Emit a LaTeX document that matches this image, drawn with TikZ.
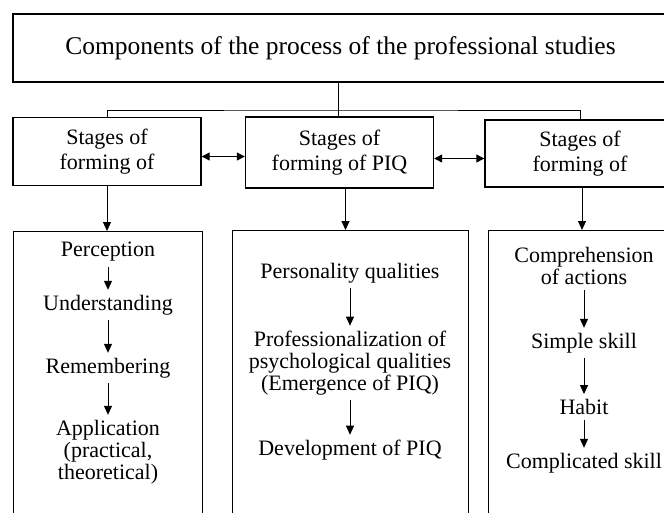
\documentclass[tikz,border=0pt]{standalone}
\usepackage{fontspec}
\setmainfont{Liberation Serif}
\usetikzlibrary{arrows.meta}

\begin{document}
\begin{tikzpicture}[x=1pt,y=-1pt,
      every node/.style={inner sep=0pt},
      titlebox/.style={draw,line width=1.6pt,minimum width=655pt,minimum height=68pt,
        font=\fontsize{25.5}{28}\selectfont},
      stagebox/.style={draw,line width=1.4pt,minimum width=188pt,minimum height=68pt,
        align=center,font=\fontsize{22}{25}\selectfont},
      listbox/.style={draw,line width=1.4pt,anchor=north west,minimum height=300pt},
      item/.style={align=center,font=\fontsize{22}{22}\selectfont},
      link/.style={line width=1pt},
      down/.style={line width=1pt,-{Triangle[length=9pt,width=8pt]},
        shorten <=5pt,shorten >=5pt},
      feed/.style={line width=1pt,-{Triangle[length=9pt,width=8pt]}},
      both/.style={line width=1.2pt,{Triangle[length=8pt,width=8pt]}-{Triangle[length=8pt,width=8pt]}}]
      \clip (0,0) rectangle (664,512);
      % top
      \node[titlebox] (top) at (340.5,48) {Components of the process of the professional studies};
      % stages
      \node[stagebox] (s1) at (107,151.5) {Stages of\\forming of};
      \node[stagebox,minimum height=71pt] (s2) at (339.5,152.5) {Stages of\\forming of PIQ};
      \node[stagebox,minimum width=190pt,minimum height=67pt] (s3) at (580,153.5) {Stages of\\forming of};
      \coordinate (bus) at (338,110);
      \draw[link] (top.south -| bus) -- (bus |- s2.north);
      \draw[link] (s1.north) |- (bus) -| (s3.north);
      \draw[both] ([yshift=-5pt]s1.east) -- ([yshift=-5pt]s1.east -| s2.west);
      \draw[both] ([yshift=-6pt]s2.east) -- ([yshift=-6pt]s2.east -| s3.west);
      % lists
      \node[listbox,minimum width=189pt] (b1) at (13,231) {};
      \node[listbox,minimum width=236pt] (b2) at (232,230) {};
      \node[listbox,minimum width=190pt] (b3) at (488,230) {};
      \draw[feed] (s1.south) -- (s1.south |- b1.north);
      \draw[feed] ([xshift=6pt]s2.south) -- ([xshift=6pt]s2.south |- b2.north);
      \draw[feed] ([xshift=2pt]s3.south) -- ([xshift=2pt]s3.south |- b3.north);
      % first column
      \node[item] (p1) at (108,252) {Perception};
      \node[item] (p2) at (108,305) {Understanding};
      \node[item] (p3) at (108,368) {Remembering};
      \node[item] (p4) at (108,452) {Application\\(practical,\\theoretical)};
      \draw[down] (p1) -- (p2);
      \draw[down] (p2) -- (p3);
      \draw[down] (p3) -- (p4);
      % second column
      \node[item] (q1) at (350,273) {Personality qualities};
      \node[item] (q2) at (350,363) {Professionalization of\\psychological qualities\\(Emergence of PIQ)};
      \node[item] (q3) at (350,450) {Development of PIQ};
      \draw[down] (q1) -- (q2);
      \draw[down] (q2) -- (q3);
      % third column
      \node[item] (r1) at (584,266) {Comprehension\\of actions};
      \node[item] (r2) at (584,343) {Simple skill};
      \node[item] (r3) at (584,407) {Habit};
      \node[item] (r4) at (584,463) {Complicated skill};
      \draw[down] (r1) -- (r2);
      \draw[down] (r2) -- (r3);
      \draw[down] (r3) -- (r4);
\end{tikzpicture}
\end{document}
